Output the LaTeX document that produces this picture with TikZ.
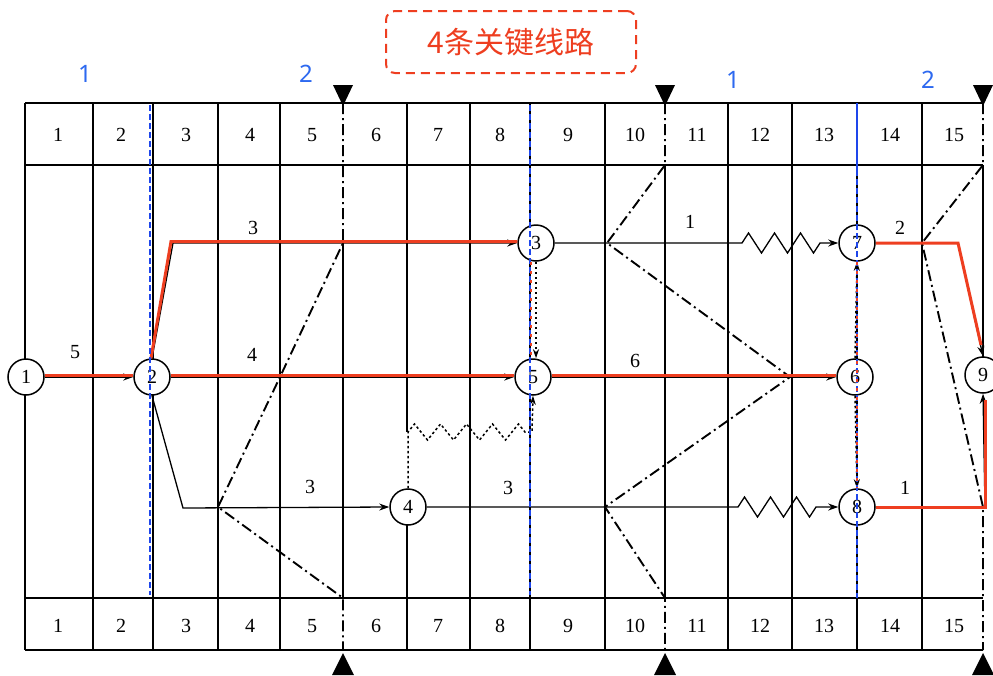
\documentclass[tikz,border=0pt]{standalone}
\usepackage{fontspec}
\setmainfont{Liberation Serif}
\newfontfamily\cjk{Noto Sans CJK SC}
\newfontfamily\sansf{Noto Sans}
\usetikzlibrary{arrows.meta,decorations.pathmorphing}
\definecolor{critred}{RGB}{238,62,32}
\definecolor{lblblue}{RGB}{45,105,240}
\definecolor{gridblue}{RGB}{30,70,235}
\begin{document}
\begin{tikzpicture}[x=1pt,y=-1pt,
 gridline/.style={line width=1.6pt},
 frontln/.style={line width=1.9pt, dash pattern=on 11pt off 4pt on 2pt off 4pt},
 act/.style={line width=1.3pt, -{Stealth[length=10pt,width=7pt]}},
 crit/.style={line width=3pt, critred},
 virt/.style={line width=1.5pt, dash pattern=on 2.5pt off 2.5pt},
 virta/.style={virt, -{Stealth[length=9pt,width=6pt]}},
 bluedash/.style={line width=2.4pt, gridblue, dash pattern=on 6pt off 3pt},
 reddash/.style={line width=2.2pt, critred, dash pattern=on 3pt off 6pt},
 ev/.style={circle, draw, line width=1.5pt, minimum size=36pt, inner sep=0pt, fill=white, font=\fontsize{20}{21}\selectfont},
 num/.style={font=\fontsize{20}{21}\selectfont, inner sep=0pt},
 bnum/.style={font=\sansf\fontsize{24}{26}\selectfont, text=lblblue, inner sep=0pt},
 zz/.style={decoration={zigzag,segment length=26pt,amplitude=10pt}},
 zzv/.style={decoration={zigzag,segment length=26pt,amplitude=8pt}}
]
\useasboundingbox (0,0) rectangle (993,675);
\fill[white] (0,0) rectangle (993,675);

% grid
\foreach \yy in {103,165,598,650} \draw[gridline] (25,\yy) -- (983,\yy);
\foreach \x in {25,93,153,218,280,470,530,605,728,792,857,922} \draw[gridline] (\x,103) -- (\x,650);
\draw[gridline] (407,103) -- (407,432);
\draw[gridline] (407,525) -- (407,650);
\draw[gridline] (343,243) -- (343,598);
\draw[gridline] (665,165) -- (665,598);
\draw[gridline] (983,165) -- (983,357);

% header numbers
\foreach \i/\x in {1/58,2/121,3/186,4/250,5/312,6/376,7/438,8/500,9/568,10/635,11/697,12/760,13/824,14/890,15/954}{
  \node[num] (ht\i) at (\x,135) {\i};
  \node[num] (hb\i) at (\x,626) {\i};
}

% front lines
\draw[frontln] (343,103) -- (343,243) -- (280,377) -- (218,507) -- (343,598) -- (343,650);
\draw[frontln] (665,103) -- (665,165) -- (607,243) -- (790,377) -- (605,507) -- (665,598) -- (665,650);
\draw[frontln] (983,103) -- (983,165) -- (922,243) -- (983,507) -- (983,650);

% triangles
\foreach \x in {343,665,983}{
  \fill (\x-10,85) -- (\x+10,85) -- (\x,106) -- cycle;
  \fill (\x-11,675) -- (\x+11,675) -- (\x,653) -- cycle;
}

% events
\node[ev] (n1) at (26,377) {1};
\node[ev] (n2) at (152,377) {2};
\node[ev] (n3) at (536,243) {3};
\node[ev] (n4) at (408,507) {4};
\node[ev] (n5) at (533,377) {5};
\node[ev] (n6) at (855,377) {6};
\node[ev] (n7) at (857,243) {7};
\node[ev] (n8) at (857,507) {8};
\node[ev] (n9) at (983,375) {9};

% activities
\draw[act] (n1) -- (n2);
\draw[act] (n2.north) -- (173,243) -- (n3.west);
\draw[act] (n2) -- (n5);
\draw[act] (n2.south) -- (183,508) -- (n4.west);
\draw[act] (n3.east) -- (742,243) decorate[zz]{-- (820,243)} -- (n7.west);
\draw[act] (n4.east) -- (738,507) decorate[zz]{-- (816,507)} -- (n8.west);
\draw[act] (n5) -- (n6);
\draw[act] (n7.east) -- (958,243) -- (n9.north);
\draw[act] (n8.east) -- (985,507) -- (n9.south);

% virtual activities
\draw[virta] (n3.south) -- (n3.south |- n5.north);
\draw[virta] (n4.north) -- (408,432) decorate[zzv]{-- (532,432)} -- (n5.south);
\draw[virta] (n6.north) -- (n7.south);
\draw[virta] (n6.south) -- (n8.north);

% critical path overlay
\draw[crit] ([yshift=1.5pt]n1.east) -- ([yshift=1.5pt]n2.west);
\draw[crit] ([xshift=-1pt]n2.north) -- (171,241.5) -- ([yshift=1.5pt]n3.west);
\draw[crit] ([yshift=1.5pt]n2.east) -- ([yshift=1.5pt]n5.west);
\draw[crit] ([yshift=1.5pt]n5.east) -- ([yshift=1.5pt]n6.west);
\draw[crit] (n7.east) -- (958,243) -- (981,345);
\draw[crit] (n8.east) -- (985,507) -- (985,400);

% control lines (blue)
\draw[bluedash] (150,105) -- (150,595);
\draw[bluedash] (530,105) -- (530,595);
\draw[line width=2.4pt, gridblue] (857,103) -- (857,170);
\draw[bluedash] (857,170) -- (857,598);
\draw[reddash] (531,262) -- (531,358);
\draw[reddash] (857,262) -- (857,488);

% activity labels
\node[num] (l12) at (75,352) {5};
\node[num] (l23) at (253,228) {3};
\node[num] (l25) at (252,355) {4};
\node[num] (l24) at (310,487) {3};
\node[num] (l48) at (508,488) {3};
\node[num] (l37) at (690,222) {1};
\node[num] (l56) at (635,361) {6};
\node[num] (l79) at (900,228) {2};
\node[num] (l89) at (905,488) {1};

% period labels
\node[bnum] (p1) at (85,74) {1};
\node[bnum] (p2) at (306,74) {2};
\node[bnum] (p3) at (733,80) {1};
\node[bnum] (p4) at (928,80) {2};

% title box
\node[draw=critred, line width=2pt, dash pattern=on 9pt off 6pt, rounded corners=9pt,
  minimum width=250pt, minimum height=62pt, text=critred,
  font=\cjk\fontsize{30}{32}\selectfont] (title) at (511,42) {4条关键线路};
\end{tikzpicture}
\end{document}
